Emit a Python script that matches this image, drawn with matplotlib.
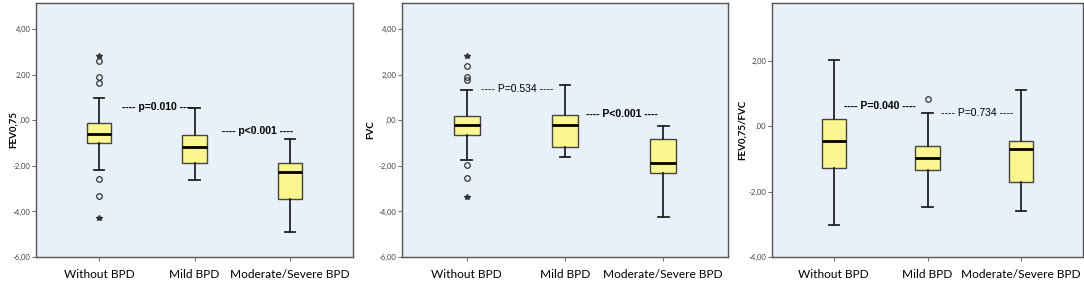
import matplotlib
matplotlib.use("Agg")
import matplotlib.pyplot as plt
from matplotlib.ticker import FuncFormatter

groups = ["Without BPD", "Mild BPD", "Moderate/Severe BPD"]

# box stats per group: [whislo, q1, median, q3, whishi]
fev_stats = [[-2.20, -0.99, -0.58, -0.10, 0.99],
             [-2.61, -1.88, -1.18, -0.64, 0.52],
             [-4.89, -3.45, -2.29, -1.88, -0.82]]
fev_circles = [[2.60, 1.90, 1.66, -2.59, -3.33], [], []]
fev_stars = [[2.82, -4.29], [], []]

fvc_stats = [[-1.73, -0.63, -0.22, 0.20, 1.32],
             [-1.62, -1.18, -0.19, 0.22, 1.57],
             [-4.25, -2.31, -1.88, -0.83, -0.23]]
fvc_circles = [[2.39, 1.91, 1.79, -1.94, -2.55], [], []]
fvc_stars = [[2.82, -3.36], [], []]

ratio_stats = [[-3.03, -1.28, -0.44, 0.24, 2.02],
               [-2.47, -1.35, -0.98, -0.60, 0.41],
               [-2.58, -1.70, -0.70, -0.45, 1.13]]
ratio_circles = [[], [0.85], []]
ratio_stars = [[], [], []]

# p-value annotations: (text, x, y, bold)
fev_notes = [("---- p=0.010 ----", 1.61, 0.60, True),
             ("---- p<0.001 ----", 2.66, -0.48, True)]
fvc_notes = [("---- P=0.534 ----", 1.51, 1.38, False),
             ("---- P<0.001 ----", 2.58, 0.28, True)]
ratio_notes = [("---- P=0.040 ----", 1.49, 0.63, True),
               ("---- P=0.734 ----", 2.53, 0.40, False)]

# (ylabel, stats, circles, stars, notes, ylim, yticks, axes x-extent px, ylabel offset px)
panels = [
    ("FEV0,75", fev_stats, fev_circles, fev_stars, fev_notes, (-6, 5.15), [-6, -4, -2, 0, 2, 4], (36, 353), -18),
    ("FVC", fvc_stats, fvc_circles, fvc_stars, fvc_notes, (-6, 5.15), [-6, -4, -2, 0, 2, 4], (402, 728), -27),
    ("FEV0,75/FVC", ratio_stats, ratio_circles, ratio_stars, ratio_notes, (-4, 3.78), [-4, -2, 0, 2], (772, 1083), -25),
]

W, H = 1084, 286
fig = plt.figure(figsize=(W / 100, H / 100), dpi=100)
plt.rcParams['font.family'] = ['Lato', 'DejaVu Sans']


def fmt(v, pos):
    s = "%.2f" % v
    s = s.replace(".", ",")
    if s.startswith("0,"):
        s = s[1:]
    if s.startswith("-0,"):
        s = s[2:]
    return s


for ylabel, stats, circles, stars, notes, ylim, yticks, (x0, x1), lab_off in panels:
    top, bottom = 3, 257
    ax = fig.add_axes([x0 / W, 1 - bottom / H, (x1 - x0) / W, (bottom - top) / H])
    ax.set_facecolor("#e8f0f9")

    bxp_stats = []
    for name, s in zip(groups, stats):
        bxp_stats.append(dict(label=name, whislo=s[0], q1=s[1], med=s[2], q3=s[3], whishi=s[4], fliers=[]))
    ax.bxp(bxp_stats, positions=[1, 2, 3], widths=0.26, patch_artist=True, showfliers=False,
           boxprops=dict(facecolor="#fbf68e", edgecolor="#444444", linewidth=1.0),
           medianprops=dict(color="black", linewidth=2.0),
           whiskerprops=dict(color="#222222", linewidth=1.3),
           capprops=dict(color="#222222", linewidth=1.3),
           capwidths=0.11)

    for i in range(3):
        if circles[i]:
            ax.plot([i + 1] * len(circles[i]), circles[i], "o", mfc="none", mec="#333333",
                    ms=4, mew=0.9)
        if stars[i]:
            ax.plot([i + 1] * len(stars[i]), stars[i], "*", color="#333333", ms=4)

    for txt, x, y, bold in notes:
        ax.text(x, y, txt, ha="center", va="center", fontsize=7.5,
                family=["Liberation Sans", "DejaVu Sans"],
                fontweight="bold" if bold else "normal", color="black")

    ax.set_xlim(0.34, 3.66)
    ax.set_ylim(*ylim)
    ax.set_yticks(yticks)
    ax.yaxis.set_major_formatter(FuncFormatter(fmt))
    ax.tick_params(axis="y", labelsize=5.5, length=3, width=0.6, color="#555555", labelcolor="#444444", pad=1)
    ax.tick_params(axis="x", labelsize=8.6, length=3, width=0.6, color="#555555", pad=6)
    ax.set_xticks([1, 2, 3])
    ax.set_xticklabels(groups)
    ax.set_ylabel(ylabel, fontsize=7, fontweight="bold")
    ax.yaxis.set_label_coords(lab_off / (x1 - x0), 0.5)
    for sp in ax.spines.values():
        sp.set_color("#555555")
        sp.set_linewidth(1.0)

fig.savefig("out.png", dpi=100, facecolor="white")
